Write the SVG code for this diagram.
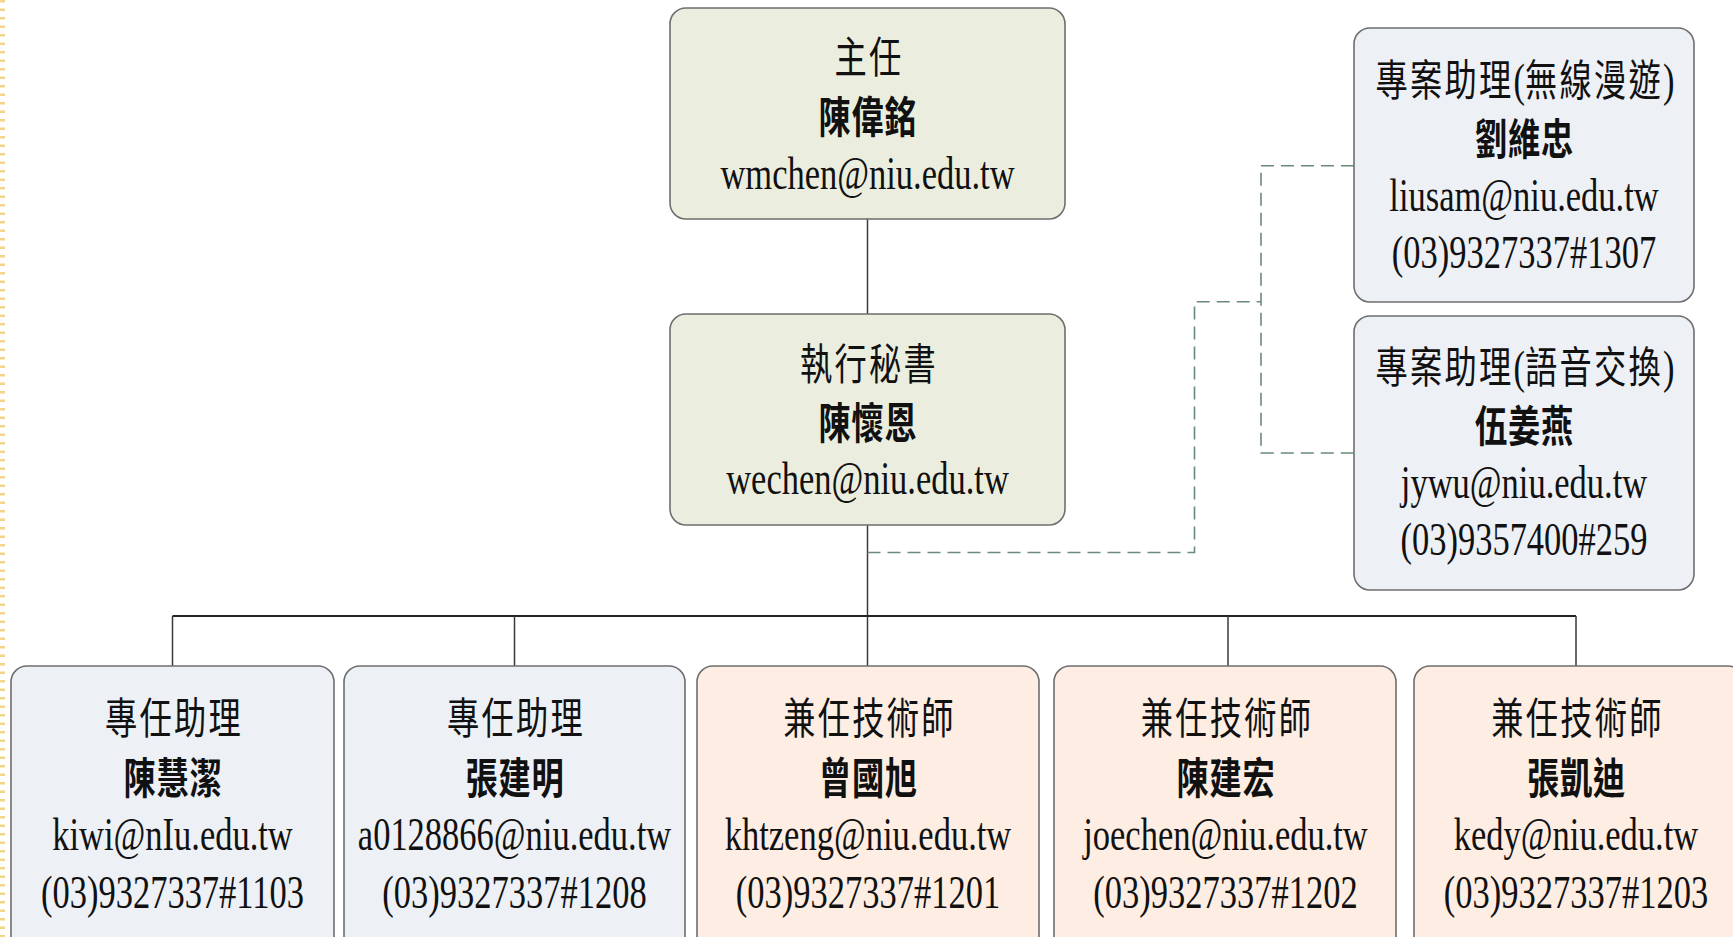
<svg xmlns="http://www.w3.org/2000/svg" width="1733" height="937" viewBox="0 0 1733 937">
<style>
.box{stroke:#6e6e6e;stroke-width:1.6}
.g{fill:#ebeedf}
.b{fill:#edf0f5}
.p{fill:#fdede3}
text{font-family:"Liberation Serif","Noto Sans CJK TC",serif;font-size:46px;fill:#111;text-anchor:middle}
.cj{font-family:"Noto Sans CJK TC",serif;font-size:43px;font-weight:400;letter-spacing:3px}
.nm{font-family:"Noto Sans CJK TC",serif;font-size:43px;font-weight:700;letter-spacing:1px}
.solid{stroke:#3a3a3a;stroke-width:1.5;fill:none}
.bus{stroke:#222;stroke-width:2;fill:none}
.dash{stroke:#6a8a78;stroke-width:1.6;fill:none;stroke-dasharray:13 7}
</style>
<rect width="1733" height="937" fill="#ffffff"/>
<line x1="2.5" y1="0" x2="2.5" y2="937" stroke="#f3d587" stroke-width="5" stroke-dasharray="2.5 6"/>

<g id="connectors">
<path class="solid" d="M867.5 219V314"/>
<path class="solid" d="M867.5 525V666"/>
<path class="bus" d="M172.5 616H1576"/>
<path class="solid" d="M172.5 616V666M514.5 616V666M1228 616V666M1576 616V666"/>
<path class="dash" d="M867.5 552.5H1194.5V301.7H1261"/>
<path class="dash" d="M1354 165.8H1261V453H1354"/>
</g>

<g id="director">
<rect class="box g" x="670" y="8" width="395" height="211" rx="16"/>
<text class="cj" transform="matrix(0.75 0 0 1 869 72.5)">主任</text>
<text class="nm" transform="matrix(0.75 0 0 1 868 132.5)">陳偉銘</text>
<text transform="matrix(0.75 0 0 1 867.5 188.5)">wmchen@niu.edu.tw</text>
</g>

<g id="secretary">
<rect class="box g" x="670" y="314" width="395" height="211" rx="16"/>
<text class="cj" transform="matrix(0.75 0 0 1 869 380)">執行秘書</text>
<text class="nm" transform="matrix(0.75 0 0 1 868 438.5)">陳懷恩</text>
<text transform="matrix(0.75 0 0 1 867.5 493.5)">wechen@niu.edu.tw</text>
</g>

<g id="pa-wireless">
<rect class="box b" x="1354" y="28" width="340" height="274" rx="16"/>
<text transform="matrix(0.75 0 0 1 1525 96)"><tspan class="cj">專案助理</tspan>(<tspan class="cj">無線漫遊</tspan>)</text>
<text class="nm" transform="matrix(0.75 0 0 1 1524.5 154.5)">劉維忠</text>
<text transform="matrix(0.75 0 0 1 1524 210.6)">liusam@niu.edu.tw</text>
<text transform="matrix(0.75 0 0 1 1524 268)">(03)9327337#1307</text>
</g>

<g id="pa-voice">
<rect class="box b" x="1354" y="316" width="340" height="274" rx="16"/>
<text transform="matrix(0.75 0 0 1 1525 383.3)"><tspan class="cj">專案助理</tspan>(<tspan class="cj">語音交換</tspan>)</text>
<text class="nm" transform="matrix(0.75 0 0 1 1524.5 441.8)">伍姜燕</text>
<text transform="matrix(0.75 0 0 1 1524 498)">jywu@niu.edu.tw</text>
<text transform="matrix(0.75 0 0 1 1524 555)">(03)9357400#259</text>
</g>

<g id="assistant-1">
<rect class="box b" x="11" y="666" width="323" height="290" rx="16"/>
<text class="cj" transform="matrix(0.75 0 0 1 174 733.6)">專任助理</text>
<text class="nm" transform="matrix(0.75 0 0 1 173 794.4)">陳慧潔</text>
<text transform="matrix(0.75 0 0 1 172.5 850.4)">kiwi@nIu.edu.tw</text>
<text transform="matrix(0.75 0 0 1 172.5 908)">(03)9327337#1103</text>
</g>

<g id="assistant-2">
<rect class="box b" x="344" y="666" width="341" height="290" rx="16"/>
<text class="cj" transform="matrix(0.75 0 0 1 516 733.6)">專任助理</text>
<text class="nm" transform="matrix(0.75 0 0 1 515 794.4)">張建明</text>
<text transform="matrix(0.75 0 0 1 514.5 850.4)">a0128866@niu.edu.tw</text>
<text transform="matrix(0.75 0 0 1 514.5 908)">(03)9327337#1208</text>
</g>

<g id="tech-1">
<rect class="box p" x="697" y="666" width="342" height="290" rx="16"/>
<text class="cj" transform="matrix(0.75 0 0 1 869.5 733.6)">兼任技術師</text>
<text class="nm" transform="matrix(0.75 0 0 1 868.5 794.4)">曾國旭</text>
<text transform="matrix(0.75 0 0 1 868 850.4)">khtzeng@niu.edu.tw</text>
<text transform="matrix(0.75 0 0 1 868 908)">(03)9327337#1201</text>
</g>

<g id="tech-2">
<rect class="box p" x="1054" y="666" width="342" height="290" rx="16"/>
<text class="cj" transform="matrix(0.75 0 0 1 1227 733.6)">兼任技術師</text>
<text class="nm" transform="matrix(0.75 0 0 1 1226 794.4)">陳建宏</text>
<text transform="matrix(0.75 0 0 1 1225.5 850.4)">joechen@niu.edu.tw</text>
<text transform="matrix(0.75 0 0 1 1225.5 908)">(03)9327337#1202</text>
</g>

<g id="tech-3">
<rect class="box p" x="1414" y="666" width="330" height="290" rx="16"/>
<text class="cj" transform="matrix(0.75 0 0 1 1577.5 733.6)">兼任技術師</text>
<text class="nm" transform="matrix(0.75 0 0 1 1576.5 794.4)">張凱迪</text>
<text transform="matrix(0.75 0 0 1 1576 850.4)">kedy@niu.edu.tw</text>
<text transform="matrix(0.75 0 0 1 1576 908)">(03)9327337#1203</text>
</g>
</svg>
